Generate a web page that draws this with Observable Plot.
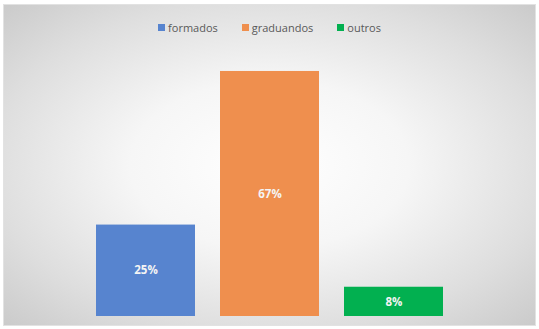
<!DOCTYPE html>
<html>
<head>
<meta charset="utf-8">
<script src="https://cdn.jsdelivr.net/npm/d3@7"></script>
<script src="https://cdn.jsdelivr.net/npm/@observablehq/plot@0.6"></script>
<style>
  html, body { margin: 0; padding: 0; background: #ffffff; }
  #frame {
    position: relative; width: 539px; height: 329px; overflow: hidden; background: #ffffff;
  }
  #chart {
    position: absolute; left: 4px; top: 5px; width: 531px; height: 320px;
    background: radial-gradient(ellipse 75% 75% at 50% 50%, #ffffff 0%, #f6f6f6 35%, #dedede 70%, #c6c6c6 100%);
    box-shadow: 0 0 0 1px #e2e2e2;
  }
  #legend {
    position: absolute; left: 0; top: 17px; width: 539px; height: 20px;
    display: flex; justify-content: center; align-items: center; gap: 24px;
    font-family: "Open Sans", "Liberation Sans", sans-serif; font-size: 11px; color: #595959;
  }
  #legend .item { display: flex; align-items: center; gap: 3px; }
  #legend .sw { width: 7px; height: 7px; display: inline-block; }
  #plot { position: absolute; left: 0; top: 50px; }
</style>
</head>
<body>
<div id="frame">
  <div id="chart"></div>
  <div id="legend"></div>
  <div id="plot"></div>
</div>
<script>
const categories = ["formados", "graduandos", "outros"];
const values = [25, 67, 8];
const labels = ["25%", "67%", "8%"];
const colors = ["#5784CF", "#EF8F4E", "#02B050"];

const data = categories.map((c, i) => ({category: c, value: values[i], label: labels[i]}));

const legend = document.getElementById("legend");
categories.forEach((c, i) => {
  const item = document.createElement("div");
  item.className = "item";
  const sw = document.createElement("span");
  sw.className = "sw";
  sw.style.background = colors[i];
  const t = document.createElement("span");
  t.textContent = c;
  item.appendChild(sw); item.appendChild(t);
  legend.appendChild(item);
});

const chart = Plot.plot({
  width: 539,
  height: 279,
  marginLeft: 71,
  marginRight: 70,
  marginTop: 10,
  marginBottom: 13,
  style: {background: "transparent", overflow: "visible"},
  x: {domain: categories, paddingInner: 0.2, paddingOuter: 0.2, axis: null},
  y: {domain: [0, 70], axis: null},
  color: {domain: categories, range: colors},
  marks: [
    Plot.barY(data, {x: "category", y: "value", fill: "category"}),
    Plot.text(data, {
      x: "category",
      y: d => d.value / 2,
      text: "label",
      fill: "#f4f4f4",
      fontWeight: "bold",
      fontSize: 11.5,
      fontFamily: "Open Sans, Liberation Sans, sans-serif"
    })
  ]
});
document.getElementById("plot").appendChild(chart);
</script>
</body>
</html>
